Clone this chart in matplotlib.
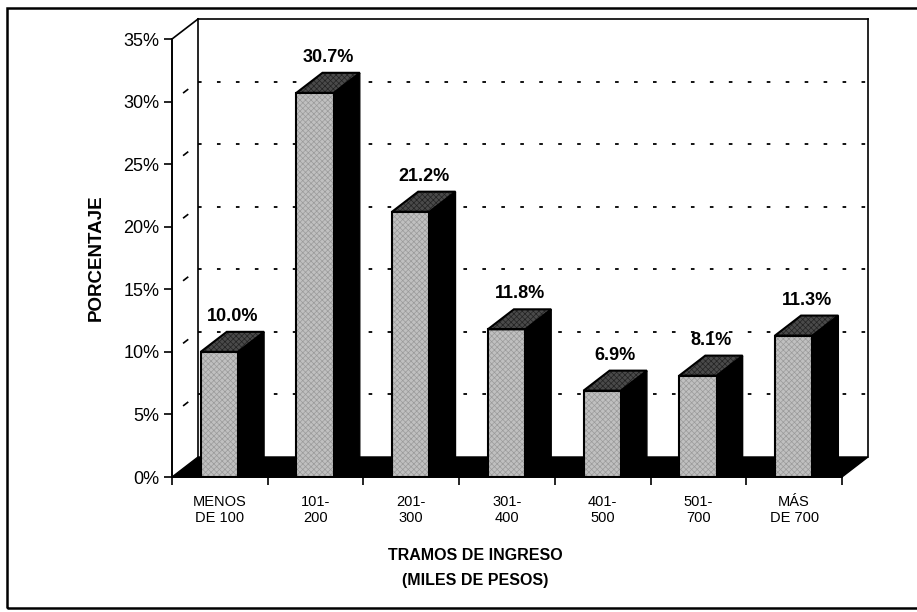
import matplotlib
matplotlib.use("Agg")
import matplotlib.pyplot as plt
from matplotlib.patches import Polygon, Rectangle

plt.rcParams["font.family"] = ["Liberation Sans", "DejaVu Sans"]
plt.rcParams["hatch.linewidth"] = 0.5

# ---- data -------------------------------------------------------------
categories = ["MENOS\nDE 100", "101-\n200", "201-\n300", "301-\n400",
              "401-\n500", "501-\n700", "MÁS\nDE 700"]
percentages = [10.0, 30.7, 21.2, 11.8, 6.9, 8.1, 11.3]
y_ticks = [0, 5, 10, 15, 20, 25, 30, 35]
y_label = "PORCENTAJE"
x_title = ["TRAMOS DE INGRESO", "(MILES DE PESOS)"]

# ---- figure geometry (pixels) ------------------------------------------
W, H = 917, 612
fig = plt.figure(figsize=(W / 100, H / 100), dpi=100)


def fx(px):
    return px / W


def fy(py):
    return 1 - py / H


X0, X1 = 172, 868   # front-left axis .. back-right wall
Y0, Y1 = 477, 19    # floor front .. top of back wall
ax = fig.add_axes([fx(X0), fy(Y0), fx(X1) - fx(X0), fy(Y1) - fy(Y0)])

n = len(categories)
DX, DY = 0.272, 1.6          # depth offset in data units
YMAX = y_ticks[-1]
ax.set_xlim(0, n + DX)
ax.set_ylim(0, YMAX + DY)

# spines / ticks
for s in ("top", "right"):
    ax.spines[s].set_visible(False)
ax.spines["left"].set_bounds(0, YMAX)
ax.spines["left"].set_linewidth(1.4)
ax.spines["bottom"].set_bounds(0, n)
ax.spines["bottom"].set_linewidth(1.4)

ax.set_yticks(y_ticks)
ax.set_yticklabels([f"{t}%" for t in y_ticks], fontsize=13)
ax.tick_params(axis="y", direction="out", length=6, width=1.2, pad=3)

ax.set_xticks(range(n + 1))
ax.set_xticklabels([""] * (n + 1))
ax.tick_params(axis="x", which="major", direction="out", length=6, width=1.2)
ax.set_xticks([i + 0.5 for i in range(n)], minor=True)
ax.set_xticklabels(categories, minor=True, fontsize=10.5, linespacing=1.2)
ax.tick_params(axis="x", which="minor", length=0, pad=13)

# floor
ax.add_patch(Polygon([(0, 0), (n, 0), (n + DX, DY), (DX, DY)],
                     closed=True, facecolor="black", edgecolor="black",
                     lw=1, zorder=1, clip_on=False))

# back wall and left wall outline
wall_kw = dict(color="black", lw=1.2, clip_on=False, zorder=1.5)
ax.plot([DX, DX], [DY, YMAX + DY], **wall_kw)
ax.plot([DX, n + DX], [YMAX + DY, YMAX + DY], **wall_kw)
ax.plot([n + DX, n + DX], [DY, YMAX + DY], **wall_kw)
ax.plot([0, DX], [YMAX, YMAX + DY], **wall_kw)

# dotted gridlines on back wall, short dash on side wall
for v in y_ticks[1:-1]:
    ax.plot([DX, n + DX], [v + DY, v + DY], color="black", lw=1.3,
            ls=(0, (2.0, 8.5)), clip_on=False, zorder=0.8)
    ax.plot([0.45 * DX, 0.6 * DX], [v + 0.45 * DY, v + 0.6 * DY],
            color="black", lw=1.2, clip_on=False, zorder=0.8)

# bars
OFF, BW = 0.30, 0.39
for i, v in enumerate(percentages):
    x0 = i + OFF
    x1 = x0 + BW
    front = [(x0, 0), (x1, 0), (x1, v), (x0, v)]
    side = [(x1, 0), (x1 + DX, DY), (x1 + DX, v + DY), (x1, v)]
    top = [(x0, v), (x1, v), (x1 + DX, v + DY), (x0 + DX, v + DY)]

    ax.add_patch(Polygon(side, closed=True, facecolor="black",
                         edgecolor="black", lw=1, zorder=3))
    ax.add_patch(Polygon(front, closed=True, facecolor="#c0c0c0",
                         edgecolor="#9a9a9a", hatch="xxxxxx", lw=0, zorder=3))
    ax.add_patch(Polygon(front, closed=True, fill=False,
                         edgecolor="black", lw=1.5, zorder=3.1))
    ax.add_patch(Polygon(top, closed=True, facecolor="#4a4a4a",
                         edgecolor="#222222", hatch="xxxxxx", lw=0, zorder=3))
    ax.add_patch(Polygon(top, closed=True, fill=False,
                         edgecolor="black", lw=1.5, zorder=3.1))

    ax.annotate(f"{v:.1f}%", xy=(x0 + (BW + DX) / 2, v + DY),
                xytext=(0, 5), textcoords="offset points",
                ha="center", va="bottom", fontsize=13, fontweight="bold",
                annotation_clip=False, zorder=4)

# axis titles
fig.text(fx(96), fy(258), y_label, rotation=90, ha="center", va="center",
         fontsize=13.5, fontweight="bold")
fig.text(fx(475), fy(555), x_title[0], ha="center", va="center",
         fontsize=11.5, fontweight="bold")
fig.text(fx(475), fy(580), x_title[1], ha="center", va="center",
         fontsize=11.5, fontweight="bold")

# outer frame
fig.add_artist(Rectangle((fx(7), fy(608)), fx(940) - fx(7), fy(8) - fy(608),
                         fill=False, lw=1.8, edgecolor="black",
                         transform=fig.transFigure))

fig.savefig("out.png", dpi=100)
